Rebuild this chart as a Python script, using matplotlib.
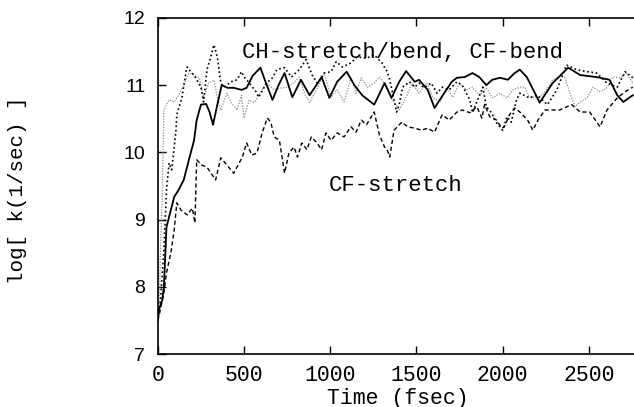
import numpy as np
import matplotlib
matplotlib.use("Agg")
import matplotlib.pyplot as plt

# solid line
t_solid = [0, 5, 25, 35, 50, 75, 95, 120, 150, 180, 210, 225, 250, 280, 300, 320, 345, 370,
           405, 440, 485, 515, 550, 595, 620, 665, 700, 735, 780, 830, 880, 950, 995, 1040,
           1095, 1140, 1185, 1255, 1315, 1355, 1400, 1440, 1490, 1515, 1565, 1605, 1645, 1705,
           1735, 1780, 1825, 1865, 1905, 1940, 1985, 2030, 2070, 2100, 2140, 2215, 2290, 2380,
           2450, 2545, 2620, 2665, 2700, 2755]
k_solid = [7.5, 7.65, 7.80, 8.00, 8.89, 9.14, 9.34, 9.44, 9.59, 9.89, 10.18, 10.48, 10.71, 10.72,
           10.60, 10.41, 10.71, 11.00, 10.96, 10.96, 10.93, 10.96, 11.14, 11.26, 11.08, 10.78,
           11.00, 11.18, 10.82, 11.08, 10.85, 11.12, 10.81, 11.05, 11.20, 11.00, 10.85, 10.71,
           11.03, 10.81, 11.05, 11.21, 11.05, 11.08, 10.93, 10.66, 10.82, 11.05, 11.11, 11.12,
           11.18, 11.12, 11.00, 11.08, 11.11, 11.08, 11.18, 11.23, 11.12, 10.74, 11.03, 11.26,
           11.15, 11.12, 11.08, 10.85, 10.75, 10.85]

# dashed line (CF-stretch)
t_dash = [0, 5, 35, 50, 75, 95, 110, 135, 170, 200, 215, 225, 255, 285, 335, 365, 440, 490, 515,
          545, 575, 605, 635, 655, 675, 705, 735, 760, 790, 810, 835, 865, 890, 920, 950, 975,
          1005, 1040, 1080, 1120, 1150, 1180, 1210, 1255, 1285, 1315, 1330, 1345, 1370, 1415,
          1450, 1490, 1530, 1565, 1605, 1635, 1650, 1690, 1735, 1765, 1810, 1850, 1880, 1895,
          1925, 1965, 1995, 2010, 2040, 2070, 2100, 2145, 2175, 2205, 2245, 2330, 2400, 2450,
          2505, 2565, 2605, 2665, 2710, 2755]
k_dash = [7.5, 7.55, 7.91, 8.21, 8.50, 8.85, 9.25, 9.14, 9.07, 9.17, 8.95, 9.89, 9.81, 9.78, 9.59,
          9.92, 9.69, 9.93, 10.14, 9.96, 9.99, 10.29, 10.51, 10.45, 10.23, 10.18, 9.69, 9.99,
          10.08, 9.93, 10.14, 10.04, 10.23, 10.15, 10.04, 10.29, 10.18, 10.29, 10.23, 10.38,
          10.30, 10.48, 10.41, 10.60, 10.26, 10.08, 10.04, 9.93, 10.33, 10.45, 10.38, 10.36,
          10.33, 10.36, 10.30, 10.48, 10.56, 10.48, 10.60, 10.63, 10.59, 10.68, 10.51, 10.71,
          10.53, 10.48, 10.36, 10.38, 10.56, 10.66, 10.60, 10.48, 10.33, 10.48, 10.63, 10.63,
          10.71, 10.60, 10.60, 10.38, 10.63, 10.81, 10.90, 10.97]

# dark dotted line
t_dot = [0, 15, 35, 50, 65, 80, 95, 105, 110, 140, 165, 170, 190, 210, 250, 265, 285, 310, 325,
         345, 365, 385, 425, 460, 485, 500, 515, 540, 570, 585, 630, 665, 690, 735, 775, 820,
         860, 895, 925, 965, 1005, 1035, 1070, 1120, 1155, 1210, 1255, 1300, 1330, 1345, 1370,
         1385, 1400, 1420, 1460, 1490, 1515, 1545, 1585, 1620, 1650, 1690, 1735, 1765, 1810,
         1825, 1855, 1885, 1905, 1935, 1965, 2000, 2025, 2050, 2080, 2100, 2155, 2200, 2260,
         2315, 2370, 2430, 2490, 2545, 2605, 2665, 2710, 2755]
k_dot = [7.5, 7.8, 8.55, 9.44, 9.84, 9.74, 10.08, 10.33, 10.56, 10.82, 11.23, 11.27, 11.20, 11.15,
         10.97, 10.75, 11.23, 11.45, 11.60, 11.42, 11.03, 10.97, 11.05, 11.08, 11.20, 11.12,
         11.08, 11.00, 10.90, 10.82, 11.03, 11.11, 11.23, 11.26, 11.12, 11.23, 11.38, 11.15,
         11.03, 11.18, 11.20, 11.35, 11.27, 11.33, 11.42, 11.40, 11.45, 11.33, 11.20, 11.08,
         10.78, 10.60, 10.71, 10.97, 11.05, 10.97, 11.03, 10.96, 11.03, 10.88, 10.97, 10.93,
         11.05, 11.00, 10.78, 10.59, 10.78, 10.97, 10.68, 10.59, 10.44, 10.33, 10.53, 10.45,
         10.78, 10.88, 10.81, 10.85, 10.71, 10.93, 11.30, 11.23, 11.20, 11.18, 11.03, 10.97,
         11.20, 11.11]

# light grey dotted line
t_grey = [0, 10, 15, 25, 30, 35, 65, 95, 120, 150, 180, 210, 240, 265, 295, 325, 345, 365, 400,
          425, 460, 485, 500, 530, 560, 585, 630, 675, 720, 760, 820, 850, 880, 925, 965, 1005,
          1040, 1080, 1120, 1150, 1180, 1215, 1255, 1285, 1330, 1360, 1400, 1440, 1475, 1515,
          1560, 1595, 1635, 1675, 1710, 1750, 1790, 1825, 1865, 1905, 1940, 1985, 2025, 2060,
          2100, 2130, 2155, 2215, 2255, 2290, 2330, 2360, 2390, 2420, 2450, 2490, 2525, 2565,
          2605, 2640, 2680, 2720, 2755]
k_grey = [7.5, 7.95, 8.55, 9.29, 10.04, 10.63, 10.78, 10.75, 10.85, 11.00, 11.18, 11.15, 11.11,
          10.82, 11.03, 11.08, 10.82, 10.63, 10.88, 10.74, 10.63, 10.85, 10.51, 10.78, 10.74,
          10.85, 11.03, 10.93, 10.96, 10.97, 11.12, 10.88, 10.74, 10.96, 11.18, 10.82, 10.93,
          10.75, 11.11, 10.88, 11.11, 10.97, 11.03, 11.12, 10.97, 10.78, 10.63, 10.82, 11.03,
          10.88, 11.03, 10.82, 10.74, 10.96, 10.82, 11.03, 10.93, 10.97, 10.85, 10.96, 10.81,
          10.88, 10.81, 10.93, 10.97, 10.97, 10.82, 10.82, 10.93, 11.08, 11.12, 11.12, 10.88,
          10.68, 10.75, 10.81, 10.97, 10.90, 10.96, 11.12, 11.11, 11.18, 11.03]

x_ticks = [0, 500, 1000, 1500, 2000, 2500]
y_ticks = [7, 8, 9, 10, 11, 12]

mono = "Liberation Mono"

fig = plt.figure(figsize=(6.34, 4.07), dpi=100)
ax = fig.add_axes([0.249, 0.130, 0.751, 0.826])

ax.plot(t_grey, k_grey, color="0.55", lw=0.9, linestyle=(0, (1, 1.2)))
ax.plot(t_dot, k_dot, color="black", lw=1.2, linestyle=(0, (1, 1.6)))
ax.plot(t_dash, k_dash, color="black", lw=1.0, linestyle=(0, (3, 2)))
ax.plot(t_solid, k_solid, color="black", lw=1.3)

ax.set_xlim(0, 2762)
ax.set_ylim(7, 12)
ax.set_xticks(x_ticks)
ax.set_yticks(y_ticks)
ax.spines["right"].set_visible(False)
for s in ["left", "top", "bottom"]:
    ax.spines[s].set_linewidth(1.2)
ax.tick_params(direction="in", length=6, width=1.0, top=True, right=False, pad=8)
ax.tick_params(axis="x", labelsize=15.5)
ax.tick_params(axis="y", labelsize=14, pad=9)
for lab in ax.get_xticklabels():
    lab.set_fontfamily(mono)
for lab in ax.get_yticklabels():
    lab.set_fontfamily("Liberation Sans")

ax.text(488, 11.49, "CH-stretch/bend, CF-bend", family=mono, fontsize=16, ha="left", va="center")
ax.text(994, 9.51, "CF-stretch", family=mono, fontsize=16, ha="left", va="center")

fig.text(0.628, 0.022, "Time (fsec)", family=mono, fontsize=15.5, ha="center", va="center")
fig.text(0.028, 0.533, "log[ k(1/sec) ]", family=mono, fontsize=15, ha="center", va="center",
         rotation=90)

fig.savefig("out.png", dpi=100)
